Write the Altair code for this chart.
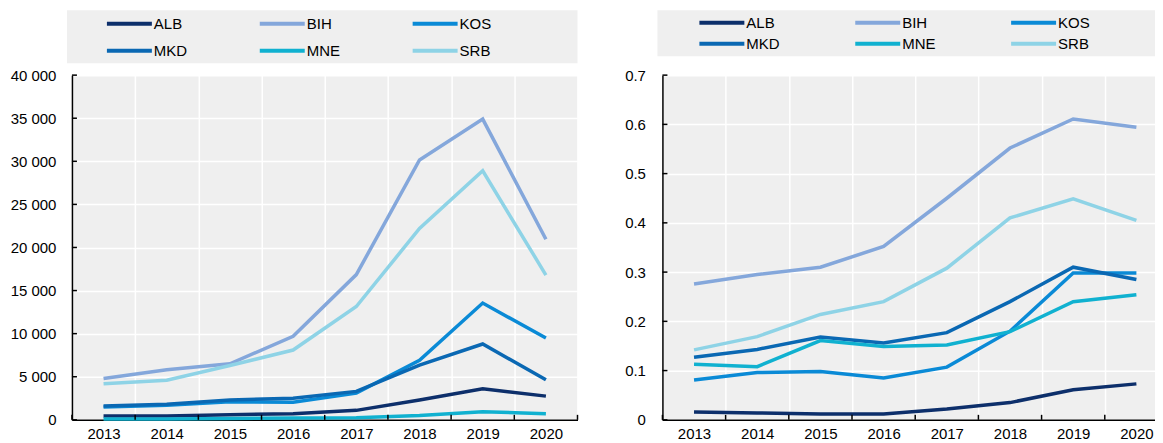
import altair as alt
import pandas as pd

FONT = "'Liberation Sans', Arial, sans-serif"
FS = 15

years = [2013, 2014, 2015, 2016, 2017, 2018, 2019, 2020]
countries = ["ALB", "BIH", "KOS", "MKD", "MNE", "SRB"]
colors = ["#0d2f6b", "#84a7db", "#0a8ad6", "#0a68b3", "#10b1d0", "#8ed3e6"]

# Left panel (levels)
left_ALB = [450, 450, 600, 700, 1100, 2300, 3600, 2750]
left_BIH = [4800, 5800, 6500, 9700, 16850, 30150, 34900, 20950]
left_KOS = [1500, 1700, 2100, 2050, 3100, 6900, 13550, 9500]
left_MKD = [1600, 1800, 2300, 2500, 3300, 6350, 8800, 4650]
left_MNE = [100, 100, 150, 200, 250, 500, 950, 700]
left_SRB = [4200, 4600, 6300, 8100, 13150, 22200, 28900, 16800]
left_ticks = [0, 5000, 10000, 15000, 20000, 25000, 30000, 35000, 40000]

# Right panel (ratios)
right_ALB = [0.016, 0.014, 0.012, 0.012, 0.022, 0.035, 0.061, 0.073]
right_BIH = [0.276, 0.295, 0.310, 0.352, 0.450, 0.552, 0.611, 0.594]
right_KOS = [0.081, 0.096, 0.098, 0.085, 0.107, 0.180, 0.298, 0.298]
right_MKD = [0.127, 0.143, 0.168, 0.156, 0.177, 0.240, 0.310, 0.285]
right_MNE = [0.113, 0.108, 0.161, 0.149, 0.152, 0.179, 0.240, 0.254]
right_SRB = [0.142, 0.169, 0.214, 0.240, 0.308, 0.410, 0.449, 0.405]
right_ticks = [0, 0.1, 0.2, 0.3, 0.4, 0.5, 0.6, 0.7]

H = 345


def long_df(series):
    rows = []
    for c, vals in zip(countries, series):
        for y, v in zip(years, vals):
            rows.append({"country": c, "year": y, "value": v})
    return pd.DataFrame(rows)


def panel(df, ticks, label_expr, W, ypad, leg_x, leg_y, row_pad, col_pad, box_y2):
    bg = alt.Chart(alt.Data(values=[{"k": 1}])).mark_rect(color="#efefef").encode(
        x=alt.value(-5), x2=alt.value(W), y=alt.value(-65), y2=alt.value(box_y2)
    )
    xs = alt.Scale(paddingInner=0, paddingOuter=0)
    lines = alt.Chart(df).mark_line(strokeWidth=3.5).encode(
        x=alt.X(
            "year:O",
            scale=xs,
            axis=alt.Axis(
                title=None, labelAngle=0, tickBand="extent", ticks=False, grid=True,
                gridColor="white", gridWidth=1.5, domainColor="black", domainWidth=1.5,
                labelPadding=7, labelFontSize=FS, labelFont=FONT, labelColor="black",
            ),
        ),
        y=alt.Y(
            "value:Q",
            scale=alt.Scale(domain=[ticks[0], ticks[-1]], nice=False),
            axis=alt.Axis(
                title=None, values=ticks, ticks=False, labelExpr=label_expr,
                gridColor="white", gridWidth=1.5, domainColor="black", domainWidth=1.5,
                labelPadding=ypad, labelFontSize=FS, labelFont=FONT, labelColor="black",
            ),
        ),
        color=alt.Color(
            "country:N",
            scale=alt.Scale(domain=countries, range=colors),
            legend=alt.Legend(
                title=None, orient="none", legendX=leg_x, legendY=leg_y, columns=3,
                direction="horizontal",
                symbolType="stroke", symbolSize=2025, symbolStrokeWidth=4,
                labelFontSize=FS, labelFont=FONT, labelColor="black", labelOffset=0,
                columnPadding=col_pad, rowPadding=row_pad, gridAlign="all",
                clipHeight=17, padding=0,
            ),
        ),
    )
    ytk = alt.Chart(pd.DataFrame({"value": ticks})).mark_rule(color="black", strokeWidth=1.5).encode(
        y=alt.Y("value:Q"), x=alt.value(0), x2=alt.value(5)
    )
    xtk = alt.Chart(pd.DataFrame({"year": years})).mark_rule(color="black", strokeWidth=1.5).encode(
        x=alt.X("year:O", bandPosition=0), y=alt.value(H - 5), y2=alt.value(H)
    )
    xend = alt.Chart(alt.Data(values=[{"k": 1}])).mark_rule(color="black", strokeWidth=1.5).encode(
        x=alt.value(W), y=alt.value(H - 5), y2=alt.value(H)
    )
    return alt.layer(bg, lines, ytk, xtk, xend).properties(width=W, height=H)


left = panel(
    long_df([left_ALB, left_BIH, left_KOS, left_MKD, left_MNE, left_SRB]),
    left_ticks,
    "replace(format(datum.value, ','), ',', ' ')",
    506, 16, 33, -60, 10, 70, -12,
)
right = panel(
    long_df([right_ALB, right_BIH, right_KOS, right_MKD, right_MNE, right_SRB]),
    right_ticks,
    "datum.value == 0 ? '0' : format(datum.value, '.1f')",
    506, 17, 35, -61, 4, 73, -19,
)

chart = (
    alt.hconcat(left, right, spacing=46)
    .resolve_scale(color="independent")
    .properties(padding={"left": 2, "top": 2, "right": -14, "bottom": 0})
    .configure_view(stroke=None, fill="#efefef")
)

chart.save("out.html", embed_options={"renderer": "svg", "actions": False})
